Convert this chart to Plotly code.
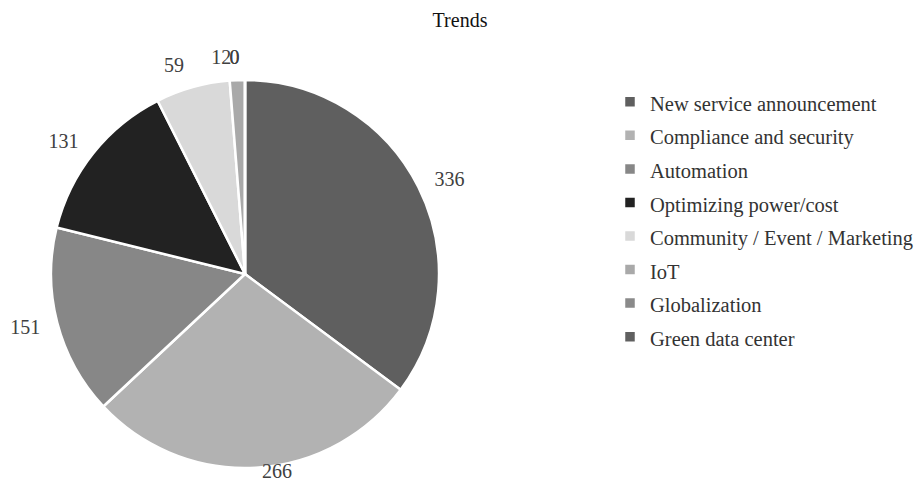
import plotly.graph_objects as go

categories = ["New service announcement", "Compliance and security", "Automation",
              "Optimizing power/cost", "Community / Event / Marketing", "IoT",
              "Globalization", "Green data center"]
values = [336, 266, 151, 131, 59, 12, 0, 0]
colors = ["#5f5f5f", "#b2b2b2", "#878787", "#222222", "#d9d9d9", "#a9a9a9", "#8a8a8a", "#606060"]

W, H = 920, 481
cx, cy, r = 245, 274, 194
label_r = r + 12
SERIF = "Liberation Serif, Times New Roman, DejaVu Serif, serif"

legend_labels = ["<span style='font-size:20.5px'>%s</span>" % c for c in categories]


def dom(rad, ccy=cy):
    return dict(x=[(cx - rad) / W, (cx + rad) / W],
                y=[max(0, 1 - (ccy + rad) / H), min(1, 1 - (ccy - rad) / H)])


# visible pie
fig = go.Figure(go.Pie(
    labels=legend_labels,
    values=values,
    sort=False,
    direction="clockwise",
    rotation=0,
    marker=dict(colors=colors, line=dict(color="white", width=2.5)),
    textinfo="none",
    domain=dom(r),
    showlegend=True,
    hoverinfo="value",
))

# one transparent label-carrier pie per slice, so labels are not pushed apart
# (the bottom slice's label sits slightly closer, as in the source)
for i in range(len(values)):
    ccy = cy - 20 if i == 1 else cy
    fig.add_trace(go.Pie(
        labels=categories,
        values=values,
        sort=False,
        direction="clockwise",
        rotation=0,
        marker=dict(colors=["rgba(0,0,0,0)"] * len(values), line=dict(width=0)),
        textinfo="value",
        textposition=["outside" if j == i else "none" for j in range(len(values))],
        outsidetextfont=dict(family=SERIF, size=20, color="#404040"),
        domain=dom(label_r, ccy),
        showlegend=False,
        hoverinfo="skip",
    ))

fig.update_layout(
    width=W, height=H,
    margin=dict(l=0, r=0, t=0, b=0, autoexpand=False),
    paper_bgcolor="white",
    title=dict(text="Trends", x=0.5, xanchor="center", y=1 - 20 / H, yanchor="middle",
               font=dict(family=SERIF, size=20, color="#111111")),
    legend=dict(x=610 / W, xanchor="left", y=1 - 80 / H, yanchor="top",
                font=dict(family=SERIF, size=23.5, color="#333333"),
                traceorder="normal"),
    showlegend=True,
)

fig.write_html("out.html")
